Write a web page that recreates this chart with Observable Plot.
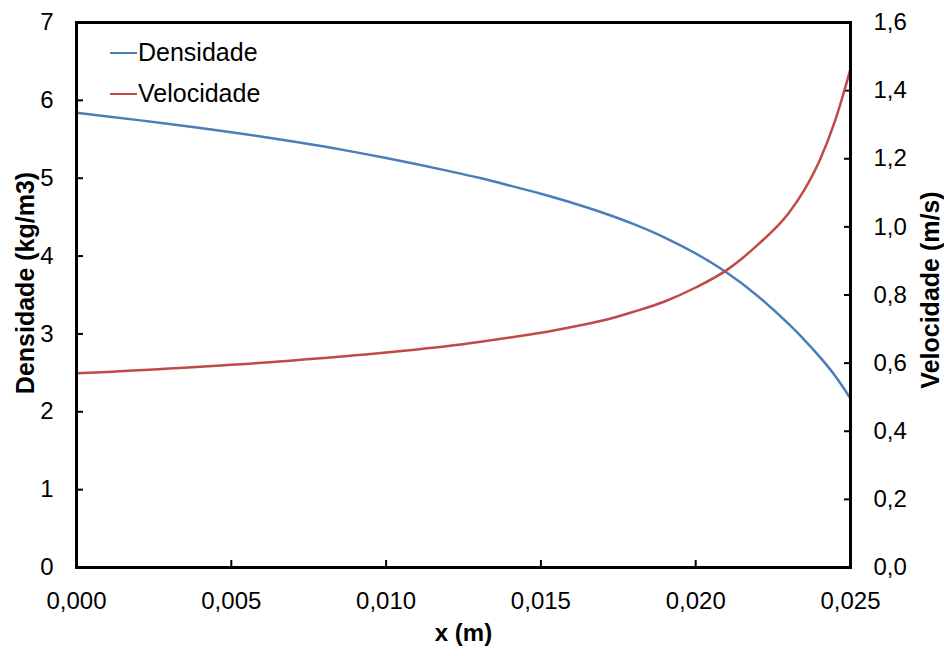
<!DOCTYPE html>
<html>
<head>
<meta charset="utf-8">
<script src="https://cdn.jsdelivr.net/npm/d3@7"></script>
<script src="https://cdn.jsdelivr.net/npm/@observablehq/plot@0.6"></script>
<style>
  html, body { margin: 0; padding: 0; background: #fff; }
  #wrap { position: relative; width: 944px; height: 656px; font-family: "Liberation Sans", Arial, sans-serif; }
  .legend { position: absolute; left: 110px; top: 32px; font-size: 25px; color: #000; line-height: 41px; }
  .legend .sw { display: inline-block; width: 27px; height: 0; border-top: 2.5px solid; vertical-align: middle; margin-right: 1px; position: relative; top: -1px; }
</style>
</head>
<body>
<div id="wrap"></div>
<script>
const xPos = [0.000, 0.001, 0.002, 0.003, 0.004, 0.005, 0.006, 0.007, 0.008, 0.009, 0.010, 0.011, 0.012, 0.013, 0.014, 0.015, 0.016, 0.017, 0.018, 0.019, 0.020, 0.021, 0.022, 0.023, 0.0235, 0.024, 0.0245, 0.025];
const densidade = [5.840, 5.794, 5.746, 5.696, 5.644, 5.590, 5.533, 5.472, 5.406, 5.335, 5.259, 5.179, 5.094, 5.005, 4.905, 4.800, 4.685, 4.557, 4.410, 4.238, 4.033, 3.788, 3.488, 3.128, 2.928, 2.708, 2.463, 2.171];
const velocidade = [0.570, 0.574, 0.579, 0.584, 0.589, 0.595, 0.601, 0.608, 0.615, 0.623, 0.631, 0.640, 0.650, 0.662, 0.675, 0.689, 0.706, 0.725, 0.751, 0.781, 0.822, 0.873, 0.947, 1.040, 1.107, 1.194, 1.311, 1.464];
const xTicks = [0, 0.005, 0.010, 0.015, 0.020, 0.025];
const yLeftTicks = [0, 1, 2, 3, 4, 5, 6, 7];
const yRightTicks = [0, 0.2, 0.4, 0.6, 0.8, 1.0, 1.2, 1.4, 1.6];
const seriesNames = ["Densidade", "Velocidade"];
const seriesColors = ["#4A7EBB", "#BE4B48"];
const axisTitles = {x: "x (m)", yLeft: "Densidade (kg/m3)", yRight: "Velocidade (m/s)"};

const leftMax = 7, rightMax = 1.6;
const k = leftMax / rightMax;
const dens = xPos.map((x, i) => ({x, y: densidade[i]}));
const vel = xPos.map((x, i) => ({x, y: velocidade[i] * k}));
const comma = (s) => s.replace(".", ",");

const chart = Plot.plot({
  width: 944,
  height: 656,
  marginLeft: 76,
  marginRight: 94,
  marginTop: 22,
  marginBottom: 89,
  style: {fontFamily: '"Liberation Sans", Arial, sans-serif', fontSize: "24px", color: "#000", background: "#fff"},
  x: {domain: [0, 0.025]},
  y: {domain: [0, leftMax]},
  marks: [
    Plot.axisX(xTicks, {anchor: "bottom", tickSize: -7, tickPadding: 31, tickFormat: d => comma(d3.format(".3f")(d)), label: null, strokeWidth: 2}),
    Plot.axisY(yLeftTicks, {anchor: "left", tickSize: -7, tickPadding: 30, tickFormat: d => String(d), label: null, strokeWidth: 2}),
    Plot.axisY(yRightTicks.map(v => v * k), {anchor: "right", tickSize: -7, tickPadding: 30, tickFormat: d => comma((d / k).toFixed(1)), label: null, strokeWidth: 2}),
    Plot.line(dens, {x: "x", y: "y", stroke: seriesColors[0], strokeWidth: 2.5, curve: "monotone-x"}),
    Plot.line(vel, {x: "x", y: "y", stroke: seriesColors[1], strokeWidth: 2.5, curve: "monotone-x"}),
    Plot.frame({stroke: "#000", strokeWidth: 3}),
    Plot.text([axisTitles.yLeft], {text: d => d, frameAnchor: "left", textAnchor: "middle", dx: -51, dy: -12, rotate: -90, fontWeight: "bold", fontSize: 25, fill: "#000"}),
    Plot.text([axisTitles.yRight], {text: d => d, frameAnchor: "right", textAnchor: "middle", dx: 80, dy: -5, rotate: -90, fontWeight: "bold", fontSize: 25, fill: "#000"}),
    Plot.text([axisTitles.x], {text: d => d, frameAnchor: "bottom", dy: 73, fontWeight: "bold", fontSize: 24, fill: "#000"})
  ]
});

const wrap = document.getElementById("wrap");
wrap.appendChild(chart);
const legend = document.createElement("div");
legend.className = "legend";
seriesNames.forEach((name, i) => {
  const row = document.createElement("div");
  const sw = document.createElement("span");
  sw.className = "sw";
  sw.style.borderColor = seriesColors[i];
  row.appendChild(sw);
  row.appendChild(document.createTextNode(name));
  legend.appendChild(row);
});
wrap.appendChild(legend);
</script>
</body>
</html>
